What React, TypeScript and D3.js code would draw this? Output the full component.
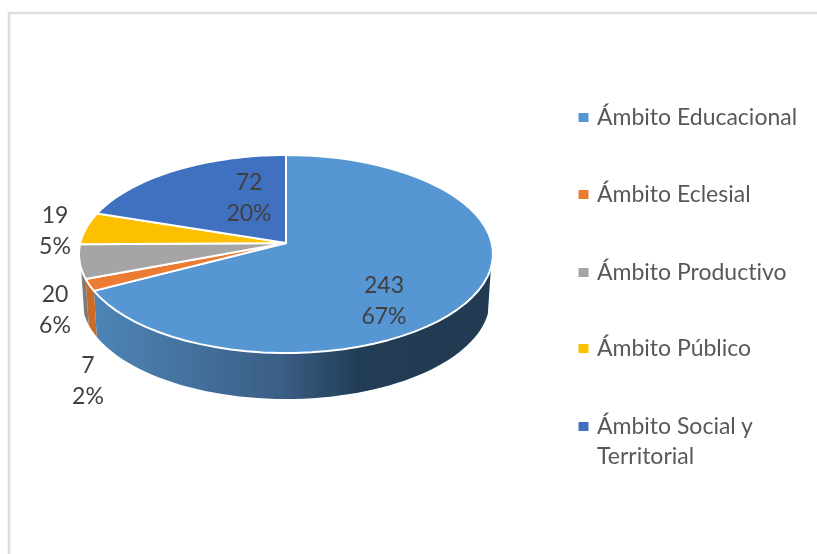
import React from "react";
import * as d3 from "d3";

const categories = ["Ámbito Educacional", "Ámbito Eclesial", "Ámbito Productivo", "Ámbito Público", "Ámbito Social y Territorial"];
const values = [243, 7, 20, 19, 72];
const percents = ["67%", "2%", "6%", "5%", "20%"];
const colors = ["#5596d3", "#ec7c30", "#a5a5a5", "#fdc000", "#4170c0"];
const sideColors = ["url(#sideGrad)", "#cc6a28", "#7c7c7c", "#bf9000", "#2f5597"];
const legendLines = [["Ámbito Educacional"], ["Ámbito Eclesial"], ["Ámbito Productivo"], ["Ámbito Público"], ["Ámbito Social y", "Territorial"]];
const legendY = [117, 194, 272, 348, 426];
const labelPos = [[384, 285], [88, 365], [55, 294], [55, 215], [249, 182]];

const W = 817, H = 554;
const cx = 286, cy = 243, a = 205.7, b = 97.8, k = 1 / 9, depth = 46, shrink = 0.985;
const font = "Lato, 'Open Sans', sans-serif";

// perspective projection of a flat disc onto the page; the lower disc is a little narrower
const project = (ang: number, r = 1, dy = 0, sx = 1): [number, number] => {
  const u = r * Math.sin(ang), v = -r * Math.cos(ang);
  const w = 1 / (1 - k * v);
  return [cx + a * sx * u * w, cy + b * v * w + dy];
};
const line = d3.line();
const arcs = d3.pie<number>().sort(null).value((d) => d)(values);
const arcPts = (s: number, e: number, dy = 0, sx = 1) =>
  d3.range(0, 61).map((i) => project(s + ((e - s) * i) / 60, 1, dy, sx));

const wedge = (s: number, e: number) => line([project(0, 0), ...arcPts(s, e)]) + "Z";
const side = (s: number, e: number) =>
  line([...arcPts(s, e), ...arcPts(s, e, depth, shrink).reverse()]) + "Z";

export default function App() {
  // only the front-facing part of the rim is visible
  const frontStart = Math.PI * 0.58, frontEnd = Math.PI * 1.42;
  const rims = arcs
    .map((d, i) => ({ s: Math.max(d.startAngle, frontStart), e: Math.min(d.endAngle, frontEnd), i }))
    .filter((d) => d.s < d.e);
  return (
    <svg width={W} height={H} style={{ position: "absolute", left: 0, top: 0, background: "#fff" }}>
      <defs>
        <linearGradient id="sideGrad" gradientUnits="userSpaceOnUse" x1={95} x2={493} y1={0} y2={0}>
          <stop offset="0" stopColor="#4d84b6" />
          <stop offset="0.465" stopColor="#3a5f85" />
          <stop offset="0.67" stopColor="#223c54" />
          <stop offset="1" stopColor="#213b52" />
        </linearGradient>
        <filter id="soft" x="-5%" y="-5%" width="110%" height="110%">
          <feGaussianBlur stdDeviation="0.75" />
        </filter>
      </defs>
      <g filter="url(#soft)" style={{ fontVariantLigatures: "none" }}>
        <path d={`M9 ${H}V13H${W}`} fill="none" stroke="#dcdcdc" strokeWidth={2.5} />
        {rims.map((d) => (
          <path key={d.i} d={side(d.s, d.e)} fill={sideColors[d.i]} />
        ))}
        {arcs.map((d, i) => (
          <path key={i} d={wedge(d.startAngle, d.endAngle)} fill={colors[i]} stroke="#fff" strokeWidth={2} strokeLinejoin="round" />
        ))}
        {labelPos.map(([x, y], i) => (
          <text key={i} textAnchor="middle" fontFamily={font} fontSize={23} fill="#404040">
            <tspan x={x} y={y + 8}>{values[i]}</tspan>
            <tspan x={x} y={y + 39}>{percents[i]}</tspan>
          </text>
        ))}
        {categories.map((c, i) => (
          <g key={c}>
            <rect x={578.5} y={legendY[i] - 4} width={10} height={9} fill={colors[i]} />
            <text fontFamily={font} fontSize={23} fill="#595959">
              {legendLines[i].map((t, j) => (
                <tspan key={j} x={597} y={legendY[i] + 8 + j * 30}>{t}</tspan>
              ))}
            </text>
          </g>
        ))}
      </g>
    </svg>
  );
}
